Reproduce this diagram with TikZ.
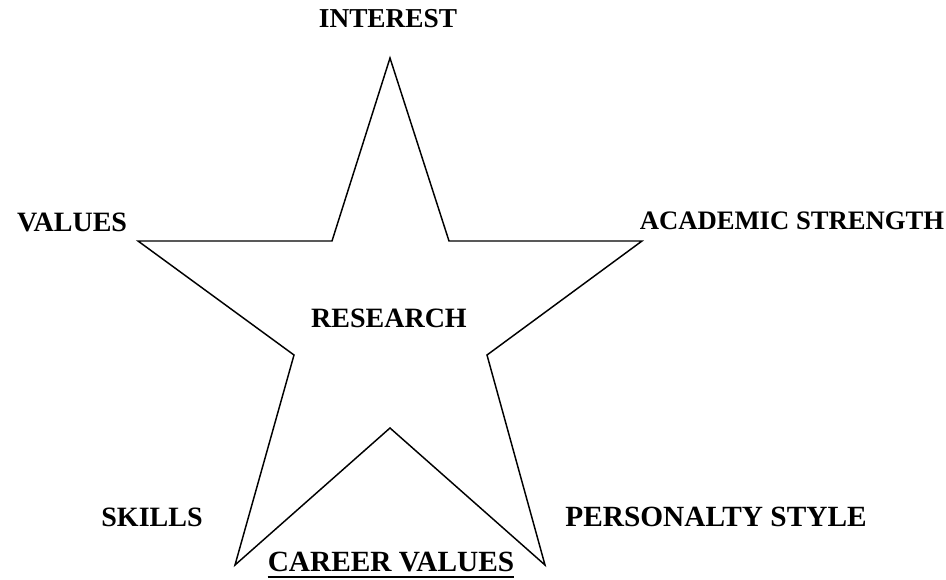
\documentclass[tikz,border=0pt]{standalone}
\usepackage{fontspec}
\setmainfont{Liberation Serif}
\begin{document}
\begin{tikzpicture}[x=0.75pt,y=-0.75pt,
  lbl/.style={inner sep=0pt,font=\fontsize{21}{24}\selectfont\bfseries},
  star/.style={draw=black,line width=1.1pt,line join=miter}]
\useasboundingbox (0,0) rectangle (946,579);
\coordinate (p1) at (390,58);
\coordinate (p2) at (449,241);
\coordinate (p3) at (642,241);
\coordinate (p4) at (487,355);
\coordinate (p5) at (545,565);
\coordinate (p6) at (390,428);
\coordinate (p7) at (235,565);
\coordinate (p8) at (294,355);
\coordinate (p9) at (138,241);
\coordinate (p10) at (332,241);
\draw[star] (p1) -- (p2) -- (p3) -- (p4) -- (p5) -- (p6) -- (p7) -- (p8) -- (p9) -- (p10) -- cycle;
\node[lbl,font=\fontsize{20.5}{24}\selectfont\bfseries] (interest) at (388,19) {INTEREST};
\node[lbl] (values) at (72,222) {VALUES};
\node[lbl,font=\fontsize{20}{24}\selectfont\bfseries] (academic) at (792,221) {ACADEMIC STRENGTH};
\node[lbl] (research) at (389,318) {RESEARCH};
\node[lbl] (skills) at (152,517) {SKILLS};
\node[lbl,font=\fontsize{22}{24}\selectfont\bfseries] (personality) at (716,517) {PERSONALTY STYLE};
\node[lbl,font=\fontsize{22}{24}\selectfont\bfseries] (career) at (391,562) {CAREER VALUES};
\path (career.south west) ++(0,5) coordinate (u1) (career.south east) ++(0,5) coordinate (u2);
\draw[line width=1.5pt] (u1) -- (u2);
\end{tikzpicture}
\end{document}
